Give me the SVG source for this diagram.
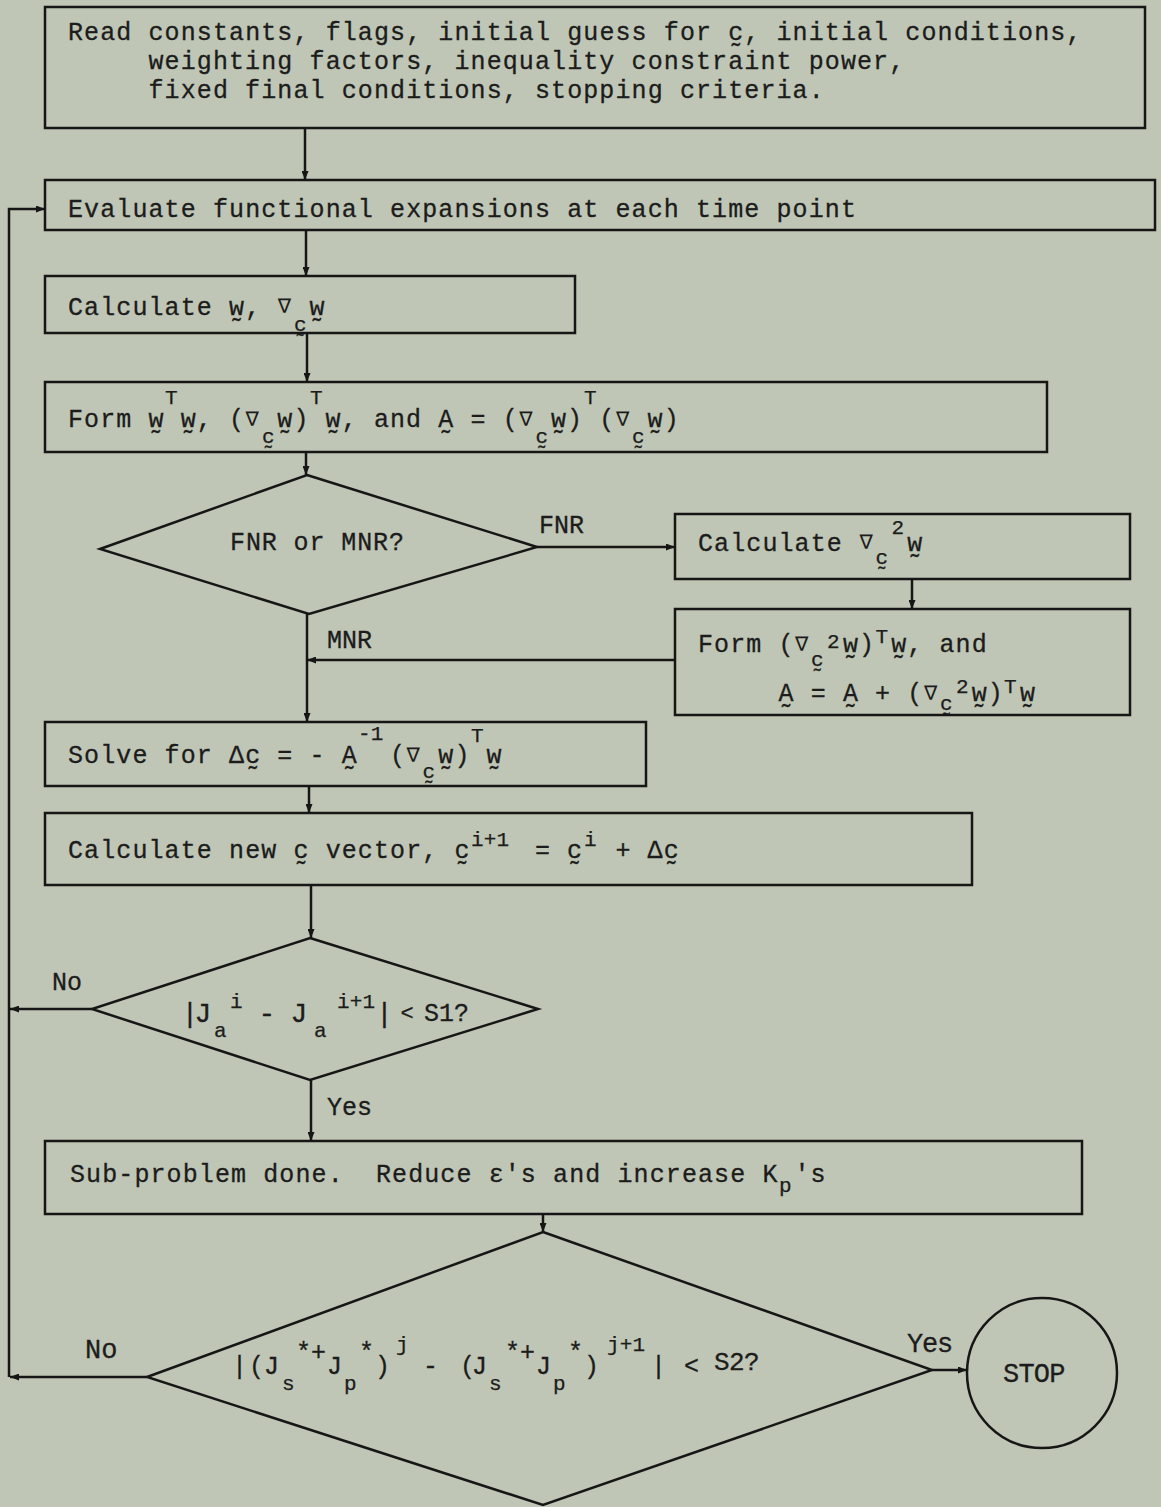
<svg xmlns="http://www.w3.org/2000/svg" width="1161" height="1507" viewBox="0 0 1161 1507">
<defs>
<style>
.t{font-family:"Liberation Mono","DejaVu Sans Mono",monospace;font-size:25px;letter-spacing:1.1px;fill:#1c1c1c;stroke:#1c1c1c;stroke-width:0.3}
.s{font-family:"Liberation Mono","DejaVu Sans Mono",monospace;font-size:21px;letter-spacing:0.2px;fill:#1c1c1c;stroke:#1c1c1c;stroke-width:0.25}
.nb{font-family:"DejaVu Sans",sans-serif;font-size:20px;text-anchor:middle;fill:#1c1c1c}
.d{font-family:"Liberation Mono","DejaVu Sans Mono",monospace;font-size:28px;fill:#1c1c1c;stroke:#1c1c1c;stroke-width:0.3}
.d3{font-family:"Liberation Mono","DejaVu Sans Mono",monospace;font-size:25px;fill:#1c1c1c;stroke:#1c1c1c;stroke-width:0.3}
.lb{font-family:"Liberation Mono","DejaVu Sans Mono",monospace;font-size:25px;letter-spacing:0px;fill:#1c1c1c;stroke:#1c1c1c;stroke-width:0.3}
.box{fill:none;stroke:#161616;stroke-width:2.5}
.ln{fill:none;stroke:#161616;stroke-width:2.5;marker-end:url(#ah)}
</style>
<marker id="ah" viewBox="0 0 9 7" refX="9" refY="3.5" markerWidth="9" markerHeight="7" markerUnits="userSpaceOnUse" orient="auto"><path d="M0,0 L9,3.5 L0,7 z" fill="#161616"/></marker>
</defs>
<rect x="0" y="0" width="1161" height="1507" fill="#bfc6b5"/>

<g id="connectors">
<path class="ln" d="M305,128 V180"/>
<path class="ln" d="M9,1377 V209 H45"/>
<path class="ln" d="M306,230 V276"/>
<path class="ln" d="M307,333 V382"/>
<path class="ln" d="M306,452 V475"/>
<path class="ln" d="M537,547 H675"/>
<path class="ln" d="M912,579 V609"/>
<path class="ln" d="M675,660 H307"/>
<path class="ln" d="M307,614 V722"/>
<path class="ln" d="M309,786 V813"/>
<path class="ln" d="M311,885 V938"/>
<path class="ln" d="M92,1009 H10"/>
<path class="ln" d="M311,1080 V1141"/>
<path class="ln" d="M543,1214 V1232"/>
<path class="ln" d="M147,1377 H10"/>
<path class="ln" d="M932,1370 H967"/>
<text class="lb" x="539" y="533">FNR</text>
<text class="lb" x="327" y="648">MNR</text>
<text class="lb" x="52" y="990">No</text>
<text class="lb" x="327" y="1115">Yes</text>
<text class="lb" x="85" y="1358" style="font-size:27px">No</text>
<text class="lb" x="907" y="1352" style="font-size:27px;letter-spacing:-1.2px">Yes</text>
</g>

<g id="n-read">
<rect class="box" x="45" y="7" width="1100" height="121"/>
<text class="t" x="68" y="40">Read constants, flags, initial guess for c&#x330;, initial conditions,</text>
<text class="t" x="148.5" y="69">weighting factors, inequality constraint power,</text>
<text class="t" x="148.5" y="98">fixed final conditions, stopping criteria.</text>
</g>

<g id="n-eval">
<rect class="box" x="45" y="180" width="1110" height="50"/>
<text class="t" x="68" y="217">Evaluate functional expansions at each time point</text>
</g>

<g id="n-calcw">
<rect class="box" x="45" y="276" width="530" height="57"/>
<text class="t" x="68" y="315">Calculate w&#x330;,</text>
<text class="nb" x="284.5" y="313">∇</text>
<text class="s" x="294" y="331">c&#x330;</text>
<text class="t" x="309.5" y="315">w&#x330;</text>
</g>

<g id="n-form">
<rect class="box" x="45" y="382" width="1002" height="70"/>
<text class="t" x="68" y="427">Form w&#x330;</text>
<text class="s" x="165" y="404">T</text>
<text class="t" x="180.7" y="427">w&#x330;, (</text>
<text class="nb" x="252.3" y="426">∇</text>
<text class="s" x="262" y="443">c&#x330;</text>
<text class="t" x="277.3" y="427">w&#x330;)</text>
<text class="s" x="310" y="404">T</text>
<text class="t" x="325.6" y="427">w&#x330;, and A&#x330; = (</text>
<text class="nb" x="526" y="426">∇</text>
<text class="s" x="535.5" y="443">c&#x330;</text>
<text class="t" x="551" y="427">w&#x330;)</text>
<text class="s" x="584" y="404">T</text>
<text class="t" x="599.3" y="427">(</text>
<text class="nb" x="622.6" y="426">∇</text>
<text class="s" x="632" y="443">c&#x330;</text>
<text class="t" x="647.6" y="427">w&#x330;)</text>
</g>

<g id="d-fnr">
<polygon class="box" points="307,475 537,547 309,614 100,549"/>
<text class="t" x="230" y="550" style="letter-spacing:0.9px">FNR or MNR?</text>
</g>

<g id="n-hess">
<rect class="box" x="675" y="514" width="455" height="65"/>
<text class="t" x="698" y="551">Calculate</text>
<text class="nb" x="866.2" y="549">∇</text>
<text class="s" x="875.5" y="564">c&#x330;</text>
<text class="s" x="891.5" y="534">2</text>
<text class="t" x="907.3" y="551">w&#x330;</text>
</g>

<g id="n-formA">
<rect class="box" x="675" y="609" width="455" height="106"/>
<text class="t" x="698" y="652">Form (</text>
<text class="nb" x="801.8" y="651">∇</text>
<text class="s" x="811" y="666">c&#x330;</text>
<text class="s" x="827" y="648">2</text>
<text class="t" x="842.9" y="652">w&#x330;)</text>
<text class="s" x="875.5" y="643">T</text>
<text class="t" x="891.2" y="652">w&#x330;, and</text>
<text class="t" x="778.5" y="701">A&#x330; = A&#x330; + (</text>
<text class="nb" x="930.6" y="700">∇</text>
<text class="s" x="940" y="710">c&#x330;</text>
<text class="s" x="956" y="693">2</text>
<text class="t" x="971.7" y="701">w&#x330;)</text>
<text class="s" x="1004" y="693">T</text>
<text class="t" x="1020" y="701">w&#x330;</text>
</g>

<g id="n-solve">
<rect class="box" x="45" y="722" width="601" height="64"/>
<text class="t" x="68" y="763">Solve for Δc&#x330; = - A&#x330;</text>
<text class="s" x="358" y="740">-1</text>
<text class="t" x="390" y="763">(</text>
<text class="nb" x="413.3" y="762">∇</text>
<text class="s" x="422.5" y="778">c&#x330;</text>
<text class="t" x="438.3" y="763">w&#x330;)</text>
<text class="s" x="471" y="742">T</text>
<text class="t" x="486.6" y="763">w&#x330;</text>
</g>

<g id="n-newc">
<rect class="box" x="45" y="813" width="927" height="72"/>
<text class="t" x="68" y="858">Calculate new c&#x330; vector, c&#x330;</text>
<text class="s" x="471" y="846">i+1</text>
<text class="t" x="534.9" y="858">= c&#x330;</text>
<text class="s" x="584" y="846">i</text>
<text class="t" x="615.4" y="858">+ Δc&#x330;</text>
</g>

<g id="d-s1">
<polygon class="box" points="310,938 538,1009 310,1080 92,1009"/>
<text class="d" x="181.6 194.6" y="1022">|J</text>
<text class="s" x="214" y="1037">a</text>
<text class="s" x="230" y="1008">i</text>
<text class="d" x="258.6 290.6" y="1022">-J</text>
<text class="s" x="314" y="1037">a</text>
<text class="s" x="337" y="1008">i+1</text>
<text class="d" x="376" y="1022">|</text>
<text class="t" x="400.4" y="1020" style="font-size:22px;letter-spacing:0">&lt;</text>
<text class="d3" x="424 439 454" y="1021">S1?</text>
</g>

<g id="n-sub">
<rect class="box" x="45" y="1141" width="1037" height="73"/>
<text class="t" x="70" y="1182" xml:space="preserve">Sub-problem done.  Reduce ε's and increase K</text>
<text class="s" x="779" y="1192">p</text>
<text class="t" x="794.5" y="1182">'s</text>
</g>

<g id="d-s2">
<polygon class="box" points="543,1232 932,1370 543,1505 147,1377"/>
<text class="d3" x="232 249 264" y="1374">|(J</text>
<text class="s" x="282" y="1390">s</text>
<text class="d3" x="296 311" y="1360">*+</text>
<text class="d3" x="327" y="1374">J</text>
<text class="s" x="344" y="1390">p</text>
<text class="d3" x="359" y="1360">*</text>
<text class="d3" x="375" y="1374">)</text>
<text class="s" x="396" y="1351">j</text>
<text class="d3" x="423 460 472" y="1374">-(J</text>
<text class="s" x="489" y="1390">s</text>
<text class="d3" x="505 520" y="1360">*+</text>
<text class="d3" x="536" y="1374">J</text>
<text class="s" x="553" y="1390">p</text>
<text class="d3" x="568" y="1360">*</text>
<text class="d3" x="584" y="1374">)</text>
<text class="s" x="607" y="1351">j+1</text>
<text class="d3" x="651 684" y="1374">|&lt;</text>
<text class="d3" x="714 729 744" y="1370" style="font-size:26px">S2?</text>
</g>

<g id="n-stop">
<circle class="box" cx="1042" cy="1373" r="75"/>
<text class="t" x="1003" y="1382" style="font-size:27px;letter-spacing:-0.8px">STOP</text>
</g>
</svg>
